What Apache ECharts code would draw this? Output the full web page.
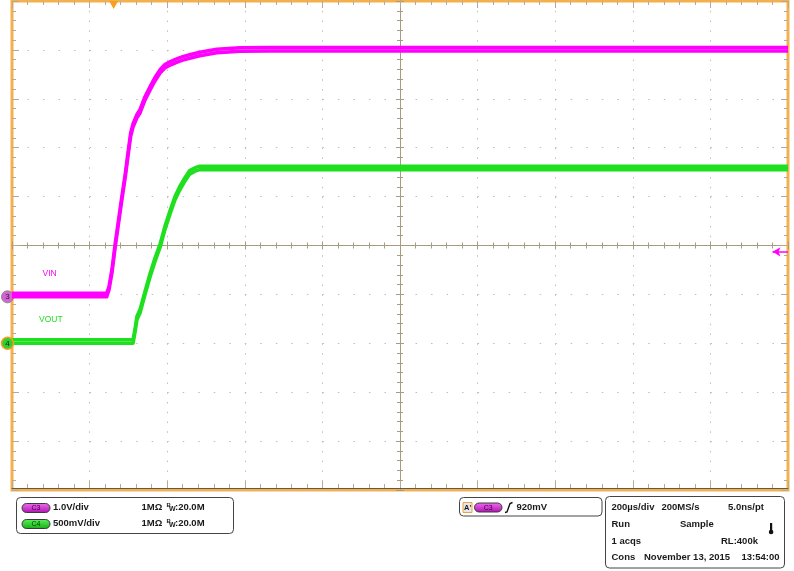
<!DOCTYPE html>
<html><head><meta charset="utf-8">
<script src="https://cdn.jsdelivr.net/npm/echarts@6/dist/echarts.min.js"></script>
<style>html,body{margin:0;padding:0;background:#fff}#c{width:794px;height:571px}</style>
</head><body><div id="c"></div>
<script>
// ---- data (time in µs relative to screen centre, voltages in V) ----
const vinTime  = [-1000,-756,-750,-742,-734,-726,-718,-708,-700,-694,-688,-678,-670,-658,-644,-632,-618,-606,-592,-574,-560,-542,-516,-472,-412,-336,1000];
const vinVolts = [0,0,0.14,0.51,1.02,1.47,1.92,2.45,2.94,3.29,3.47,3.66,3.76,4.01,4.23,4.41,4.58,4.68,4.74,4.80,4.84,4.88,4.93,4.99,5.02,5.03,5.03];
const voutTime  = [-1000,-688,-682,-678,-670,-658,-644,-632,-618,-606,-592,-580,-568,-554,-542,-528,-516,1000];
const voutVolts = [0,0,0.135,0.24,0.31,0.485,0.68,0.83,0.985,1.16,1.33,1.465,1.565,1.66,1.73,1.76,1.775,1.775];
const vinVoltsPerDiv = 1.0, vinGroundDiv = -1.05;
const voutVoltsPerDiv = 0.5, voutGroundDiv = -2.0;
const triggerTime = -738, triggerLevel = 0.92;
const timeMin = -1000, timeMax = 1000, timePerDiv = 200;
const divMin = -5, divMax = 5;
const vinLabelPos = [-903, 0.47], voutLabelPos = [-900, 0.24];

const MAG = '#ff00ff', GRN = '#1fe01f', ORANGE = '#f6b04a';
const TICK = '#b5ab93', CENTER = '#a89c80', DOT = '#bdbdbd';
const FONT = '"Liberation Sans", Arial, sans-serif';

const vinData = vinTime.map((t, i) => [t, vinVolts[i] / vinVoltsPerDiv + vinGroundDiv]);
const voutData = voutTime.map((t, i) => [t, voutVolts[i] / voutVoltsPerDiv + voutGroundDiv]);

function edgeAxis(kind, pos, split, dash) {
  const a = {
    type: 'value', position: pos,
    axisLine: { show: false, onZero: false },
    axisTick: { show: true, inside: true, length: 7, lineStyle: { color: TICK } },
    minorTick: { show: true, splitNumber: 5, length: 4, lineStyle: { color: TICK } },
    axisLabel: { show: false },
    splitLine: { show: split, lineStyle: { color: DOT, width: 1, type: dash } },
    minorSplitLine: { show: false }
  };
  if (kind === 'x') { a.min = timeMin; a.max = timeMax; a.interval = timePerDiv; }
  else { a.min = divMin; a.max = divMax; a.interval = 1; }
  return a;
}
function centerAxis(kind, pos, inside) {
  const a = {
    type: 'value', position: pos,
    axisLine: { show: true, onZero: true, onZeroAxisIndex: 0, lineStyle: { color: CENTER, width: 1 } },
    axisTick: { show: true, inside: inside, length: 4, lineStyle: { color: CENTER } },
    minorTick: { show: true, splitNumber: 5, length: 3, lineStyle: { color: CENTER } },
    axisLabel: { show: false }, splitLine: { show: false }
  };
  if (kind === 'x') { a.min = timeMin; a.max = timeMax; a.interval = timePerDiv; }
  else { a.min = divMin; a.max = divMax; a.interval = 1; }
  return a;
}
const xBottom = edgeAxis('x', 'bottom', true, [1.5, 8.28]);
xBottom.offset = -2;
xBottom.axisLine = { show: true, onZero: false, lineStyle: { color: '#5a5a5a', width: 1 } };

const T = (text, x, y, size, extra) => Object.assign({
  type: 'text', silent: true,
  style: Object.assign({ text: text, x: x, y: y, fill: '#1a1a1a', font: 'bold ' + (size || 9.5) + 'px ' + FONT, verticalAlign: 'middle', align: 'left' }, extra || {})
});
function pill(x, y, w, label, c1, c2, tc) {
  return [
    { type: 'rect', silent: true, shape: { x: x, y: y, width: w, height: 9, r: 4.5 },
      style: { fill: new echarts.graphic.LinearGradient(0, 0, 0, 1, [{ offset: 0, color: c1 }, { offset: 1, color: c2 }]), stroke: '#3a3a3a', lineWidth: 1 } },
    { type: 'text', silent: true, style: { text: label, x: x + w / 2, y: y + 4.8, fill: tc, font: '7px ' + FONT, align: 'center', verticalAlign: 'middle' } }
  ];
}
function bw(x, y) {
  return [T('B', x, y - 2.3, 6), T('W', x + 2.6, y + 2, 7), T(':20.0M', x + 8.5, y)];
}

const graphics = [].concat(
  [{ type: 'rect', silent: true, shape: { x: 16.5, y: 497.5, width: 217, height: 36, r: 4 }, style: { fill: '#fff', stroke: '#444', lineWidth: 1 } }],
  pill(22, 503.5, 28, 'C3', '#f070f0', '#b010b0', '#3a003a'),
  [T('1.0V/div', 53, 507.5), T('1MΩ', 141.5, 507.5)], bw(166.5, 507.5),
  pill(22, 519.5, 28, 'C4', '#60f060', '#10b010', '#003300'),
  [T('500mV/div', 53, 523.5), T('1MΩ', 141.5, 523.5)], bw(166.5, 523.5),
  [{ type: 'rect', silent: true, shape: { x: 459.5, y: 497.5, width: 142.5, height: 18.5, r: 4 }, style: { fill: '#fff', stroke: '#444', lineWidth: 1 } },
   { type: 'rect', silent: true, shape: { x: 463, y: 502.5, width: 9, height: 10 }, style: { fill: '#e6e6e6', stroke: '#f0a040', lineWidth: 1 } },
   T("A'", 464, 507.7, 7.5)],
  pill(474.5, 503, 27.5, 'C3', '#f070f0', '#b010b0', '#3a003a'),
  [{ type: 'polyline', silent: true, shape: { points: [[505, 512.5], [507, 512], [510, 503.5], [512.5, 502.5]] }, style: { stroke: '#111', lineWidth: 1.4, fill: null } },
   T('920mV', 516.5, 507.5),
   { type: 'rect', silent: true, shape: { x: 605.5, y: 496.5, width: 179, height: 71.5, r: 4 }, style: { fill: '#fff', stroke: '#444', lineWidth: 1 } },
   T('200µs/div', 611.5, 507.5), T('200MS/s', 661.5, 507.5), T('5.0ns/pt', 728, 507.5),
   T('Run', 611.5, 524), T('Sample', 680, 524),
   { type: 'rect', silent: true, shape: { x: 770, y: 523, width: 2.2, height: 8 }, style: { fill: '#111' } },
   { type: 'circle', silent: true, shape: { cx: 771.1, cy: 532, r: 2.3 }, style: { fill: '#111' } },
   T('1 acqs', 611.5, 541), T('RL:400k', 721, 541),
   T('Cons', 611.5, 557.5), T('November 13, 2015', 644, 557.5), T('13:54:00', 741.5, 557.5)]
);

const chart = echarts.init(document.getElementById('c'), null, { renderer: 'canvas' });
chart.setOption({
  animation: false,
  backgroundColor: '#fff',
  grid: { left: 12, top: 1, width: 776, height: 489, show: true, borderColor: ORANGE, borderWidth: 3, backgroundColor: '#fff', containLabel: false, outerBoundsMode: 'none' },
  xAxis: [xBottom, edgeAxis('x', 'top', false), centerAxis('x', 'bottom', true), centerAxis('x', 'bottom', false)],
  yAxis: [edgeAxis('y', 'left', true, [1.5, 14.02]), edgeAxis('y', 'right', false), centerAxis('y', 'left', true), centerAxis('y', 'left', false)],
  series: [
    {
      name: 'VIN', type: 'line', xAxisIndex: 0, yAxisIndex: 0, data: vinData, showSymbol: false, z: 5,
      lineStyle: { color: MAG, width: 3.5, join: 'round', shadowColor: MAG, shadowBlur: 0, shadowOffsetY: -3.5 },
      itemStyle: { color: MAG },
      markPoint: {
        silent: true, animation: false,
        data: [
          { coord: vinLabelPos.map((v, i) => i ? v / vinVoltsPerDiv + vinGroundDiv : v), symbol: 'circle', symbolSize: 0,
            label: { show: true, position: 'inside', formatter: 'VIN', color: MAG, fontSize: 8.5, fontFamily: FONT } },
          { coord: [timeMin, vinGroundDiv], symbol: 'circle', symbolSize: 12, symbolOffset: [-4.5, 0],
            itemStyle: { color: '#d662d6', borderColor: '#8a8a8a', borderWidth: 1, shadowBlur: 0, shadowOffsetY: 0 },
            label: { show: true, position: 'inside', formatter: '3', color: '#222', fontSize: 8, fontFamily: FONT } },
          { coord: [triggerTime, divMax], symbol: 'triangle', symbolRotate: 180, symbolSize: [9, 8], symbolOffset: [0, 4],
            itemStyle: { color: '#f5a020' }, label: { show: false } }
        ]
      },
      markLine: {
        silent: true, animation: false, symbol: ['arrow', 'none'], symbolSize: [7, 8],
        lineStyle: { color: MAG, width: 1.5, type: 'solid', shadowOffsetY: 0, shadowColor: 'transparent' }, label: { show: false },
        data: [[{ coord: [timeMax - 0.2 * timePerDiv, triggerLevel / vinVoltsPerDiv + vinGroundDiv] }, { coord: [timeMax, triggerLevel / vinVoltsPerDiv + vinGroundDiv] }]]
      }
    },
    {
      name: 'VOUT', type: 'line', xAxisIndex: 0, yAxisIndex: 0, data: voutData, showSymbol: false, z: 4,
      lineStyle: { color: GRN, width: 3.5, join: 'round', shadowColor: GRN, shadowBlur: 0, shadowOffsetY: -3.5 },
      itemStyle: { color: GRN },
      markPoint: {
        silent: true, animation: false,
        data: [
          { coord: voutLabelPos.map((v, i) => i ? v / voutVoltsPerDiv + voutGroundDiv : v), symbol: 'circle', symbolSize: 0,
            label: { show: true, position: 'inside', formatter: 'VOUT', color: GRN, fontSize: 8.5, fontFamily: FONT } },
          { coord: [timeMin, voutGroundDiv], symbol: 'circle', symbolSize: 12, symbolOffset: [-4.5, 0],
            itemStyle: { color: '#2fcf2f', borderColor: '#f5a020', borderWidth: 1.5 },
            label: { show: true, position: 'inside', formatter: '4', color: '#222', fontSize: 8, fontFamily: FONT } }
        ]
      }
    }
  ],
  graphic: graphics
});
</script></body></html>
